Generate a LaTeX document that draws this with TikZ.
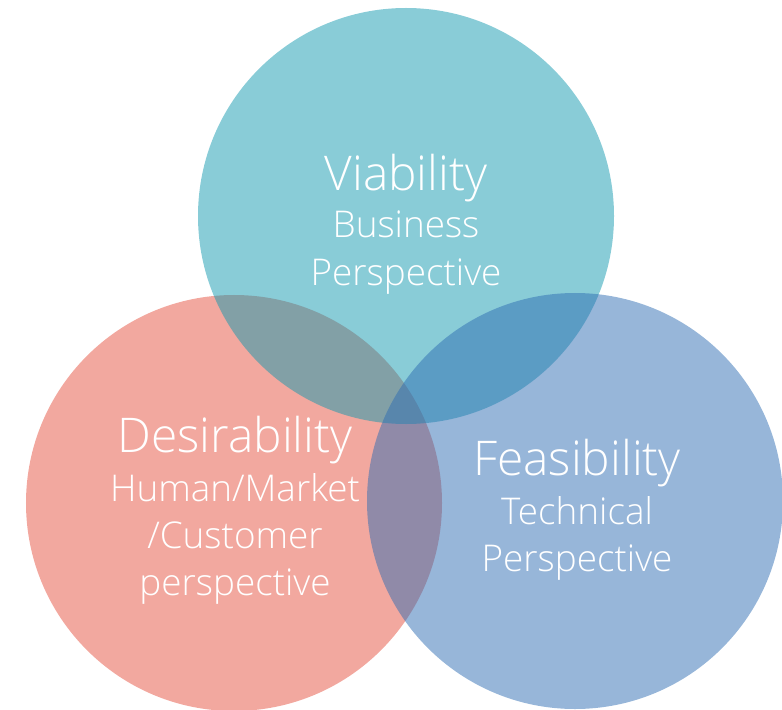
\documentclass[tikz,border=0pt]{standalone}
\usepackage{fontspec}
\setmainfont{Open Sans}[UprightFont={* Light}]
\usetikzlibrary{positioning}
\definecolor{descol}{RGB}{229,81,63}
\definecolor{viacol}{RGB}{19,153,175}
\definecolor{feacol}{RGB}{47,109,179}

\begin{document}
\begin{tikzpicture}[
    x=1bp, y=-1bp,
    venn/.style={
       circle,
       draw=none,
       fill opacity=0.5,
       inner sep=0pt,
       minimum size=416bp},
    titletext/.style={text=white, inner sep=0pt, font=\fontsize{48}{56}\selectfont},
    subtext/.style={text=white, inner sep=0pt, align=center, font=\fontsize{37}{47.5}\selectfont},
    node distance=21bp
    ]
    \useasboundingbox (0,0) rectangle (782,710);

  % order matters: salmon, then teal, then blue on top
  \foreach \n/\c/\px/\py in {%
    des/descol/234/503,
    via/viacol/406/216,
    fea/feacol/575/501}
     \node[venn, fill=\c] (\n) at (\px,\py) {};

    \node[titletext, anchor=base] (viat) at (406,190) {Viability};
    \node[subtext, below=of viat.base] (viasub) {Business\\Perspective};

    \node[titletext, anchor=base] (dest) at (235,452) {Desirability};
    \node[subtext, below=of dest.base] (dessub) {Human/Market\\/Customer\\perspective};

    \node[titletext, anchor=base] (feat) at (577,475) {Feasibility};
    \node[subtext, below=of feat.base] (feasub) {Technical\\Perspective};
  \end{tikzpicture}
\end{document}
